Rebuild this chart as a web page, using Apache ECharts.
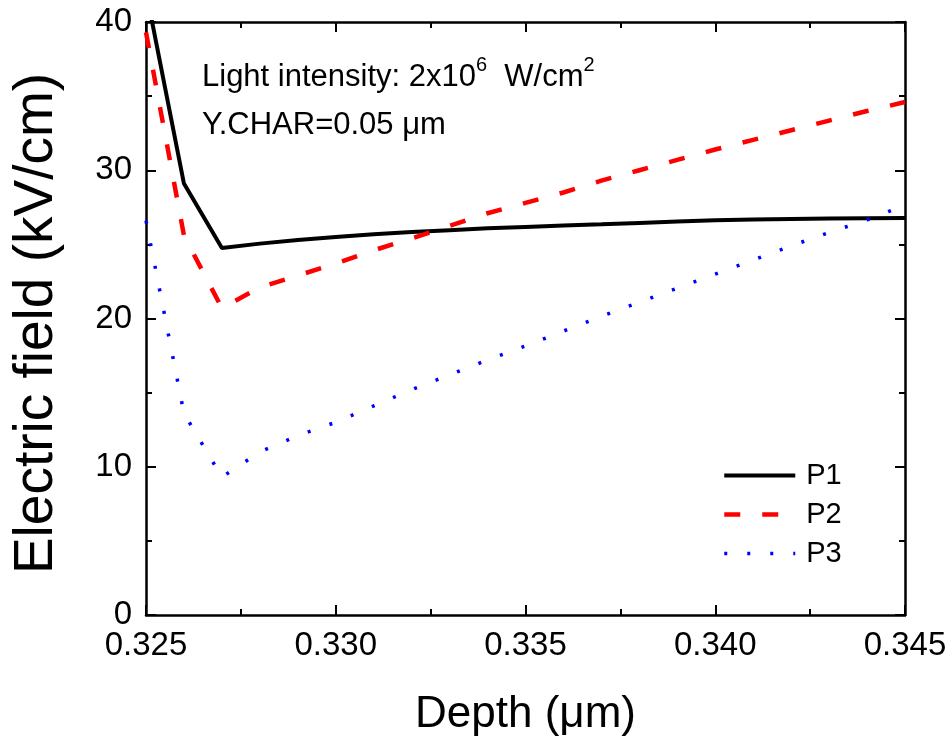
<!DOCTYPE html>
<html>
<head>
<meta charset="utf-8">
<script src="https://cdn.jsdelivr.net/npm/echarts@6/dist/echarts.min.js"></script>
<style>
  html, body { margin: 0; padding: 0; background: #fff; }
  #chart { width: 951px; height: 742px; }
</style>
</head>
<body>
<div id="chart"></div>
<script>
// Depth positions (µm) and electric field (kV/cm) for the three profiles
const depth = [0.325, 0.326, 0.327, 0.328, 0.329, 0.330, 0.331, 0.332, 0.333, 0.334,
               0.335, 0.336, 0.337, 0.338, 0.339, 0.340, 0.341, 0.342, 0.343, 0.344, 0.345];
const p1 = [42.1, 29.1, 24.75, 25.05, 25.3, 25.5, 25.68, 25.83, 25.96, 26.08,
            26.18, 26.27, 26.35, 26.45, 26.55, 26.62, 26.67, 26.71, 26.74, 26.76, 26.78];
const p2 = [39.3, 25.6, 20.7, 22.1, 22.9, 23.7, 24.6, 25.4, 26.25, 27.1,
            27.8, 28.5, 29.3, 30.0, 30.7, 31.4, 32.05, 32.7, 33.35, 34.0, 34.6];
const p3 = [26.6, 13.6, 9.3, 11.0, 12.1, 13.0, 14.1, 15.2, 16.2, 17.2,
            18.15, 19.15, 20.15, 21.1, 22.05, 23.0, 23.95, 24.9, 25.8, 26.65, 27.65];
const seriesNames = ['P1', 'P2', 'P3'];

const xTicks = { min: 0.325, max: 0.345, interval: 0.005 };
const yTicks = { min: 0, max: 40, interval: 10 };

const FONT = 'Liberation Sans, Arial, Helvetica, sans-serif';
const pairs = (ys) => depth.map((x, i) => [x, ys[i]]);

// line appearance shared by each curve and its legend entry
const styles = [
  { color: '#000000', width: 4, type: 'solid', cap: 'butt' },
  { color: '#ff0000', width: 4.5, type: [16, 22], cap: 'butt' },
  { color: '#0000ff', width: 3.5, type: [3, 20], cap: 'butt' }
];

const chart = echarts.init(document.getElementById('chart'), null, { renderer: 'canvas' });

const axisCommon = {
  axisLine: { show: true, onZero: false, lineStyle: { color: '#000', width: 2.5 } },
  axisTick: { show: true, inside: true, length: 10, lineStyle: { color: '#000', width: 2 } },
  minorTick: { show: true, splitNumber: 2, length: 6, lineStyle: { color: '#000', width: 2 } },
  splitLine: { show: false },
  minorSplitLine: { show: false }
};

chart.setOption({
  animation: false,
  backgroundColor: '#fff',
  grid: { left: 146, right: 46, top: 22, bottom: 122, containLabel: false },
  xAxis: [
    Object.assign({}, axisCommon, {
      type: 'value', position: 'bottom',
      min: xTicks.min, max: xTicks.max, interval: xTicks.interval,
      name: 'Depth (μm)', nameLocation: 'middle', nameGap: 78,
      nameTextStyle: { fontFamily: FONT, fontSize: 44, color: '#000' },
      axisLabel: { fontFamily: FONT, fontSize: 33, color: '#000', margin: 14,
                   formatter: (v) => v.toFixed(3) }
    }),
    Object.assign({}, axisCommon, {
      type: 'value', position: 'top',
      min: xTicks.min, max: xTicks.max, interval: xTicks.interval,
      axisLabel: { show: false }
    })
  ],
  yAxis: [
    Object.assign({}, axisCommon, {
      type: 'value', position: 'left',
      min: yTicks.min, max: yTicks.max, interval: yTicks.interval,
      name: 'Electric field (kV/cm)', nameLocation: 'middle', nameGap: 82,
      nameTextStyle: { fontFamily: FONT, fontSize: 55, color: '#000', padding: [0, 10, 0, 0] },
      axisLabel: { fontFamily: FONT, fontSize: 33, color: '#000', margin: 14 }
    }),
    Object.assign({}, axisCommon, {
      type: 'value', position: 'right',
      min: yTicks.min, max: yTicks.max, interval: yTicks.interval,
      axisLabel: { show: false }
    })
  ],
  legend: {
    left: 717, top: 451, orient: 'vertical',
    itemWidth: 71, itemHeight: 14, itemGap: 0,
    itemStyle: { opacity: 0 },
    textStyle: { fontFamily: FONT, fontSize: 29, color: '#000', lineHeight: 39,
                 padding: [0, 0, 0, 6] },
    data: seriesNames.map((name, i) => ({
      name: name,
      itemStyle: { opacity: 0 },
      lineStyle: { color: styles[i].color, width: styles[i].width, type: styles[i].type, cap: 'butt' }
    }))
  },
  series: seriesNames.map((name, i) => ({
    name: name, type: 'line', data: pairs([p1, p2, p3][i]), symbol: 'none', clip: true,
    lineStyle: styles[i], itemStyle: { color: styles[i].color }
  })),
  graphic: [
    {
      type: 'text', left: 202, top: 55,
      style: {
        text: '{a|Light intensity: 2x10}{s|6}{a|  W/cm}{s|2}',
        rich: {
          a: { fontFamily: FONT, fontSize: 31, lineHeight: 38, verticalAlign: 'bottom', fill: '#000' },
          s: { fontFamily: FONT, fontSize: 20, lineHeight: 20, verticalAlign: 'top', fill: '#000' }
        }
      }
    },
    {
      type: 'text', left: 202, top: 110,
      style: {
        text: '{a|Y.CHAR=0.05 μm}',
        rich: {
          a: { fontFamily: FONT, fontSize: 31, lineHeight: 38, verticalAlign: 'bottom', fill: '#000' }
        }
      }
    }
  ]
});
</script>
</body>
</html>
